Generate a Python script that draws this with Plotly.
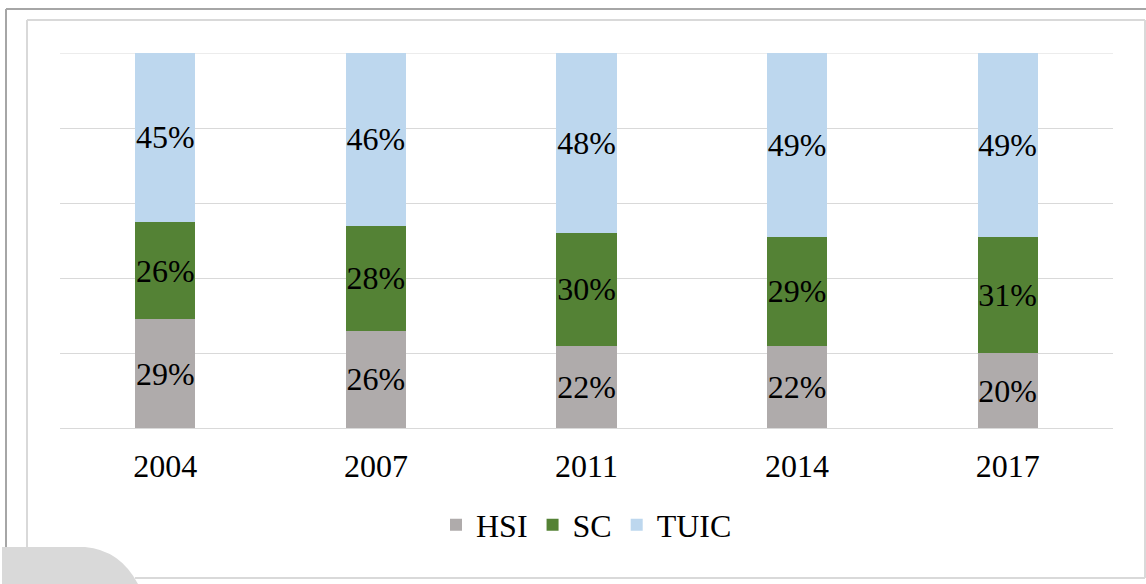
import plotly.graph_objects as go

years = ["2004", "2007", "2011", "2014", "2017"]
hsi = [29, 26, 22, 22, 20]
sc = [26, 28, 30, 29, 31]
tuic = [45, 46, 48, 49, 49]

W, H = 1146, 584
L, R, T, B = 60, 33, 53, 156
PW, PH = W - L - R, H - T - B


def px(x):
    return (x - L) / PW


def py(y):
    return (H - B - y) / PH


FONT = "Liberation Serif, Times New Roman, serif"

fig = go.Figure()
for name, vals, col in [("HSI", hsi, "#AFABAB"), ("SC", sc, "#548235"), ("TUIC", tuic, "#BDD7EE")]:
    fig.add_trace(go.Bar(
        x=years, y=vals, name=name, marker=dict(color=col, line=dict(width=0)),
        text=[f"{v}%" for v in vals], textposition="inside", insidetextanchor="middle",
        textangle=0,
        textfont=dict(family=FONT, size=32, color="#000000"), constraintext="none",
        hoverinfo="skip",
    ))

shapes = [
    # top gridline (100%)
    dict(type="line", xref="paper", yref="y", x0=0, x1=1, y0=100, y1=100,
         line=dict(color="#D9D9D9", width=1), layer="below"),
    # outer dark frame
    dict(type="line", xref="paper", yref="paper", x0=px(6), x1=px(1146), y0=py(9), y1=py(9),
         line=dict(color="#A6A6A6", width=2)),
    dict(type="line", xref="paper", yref="paper", x0=px(6), x1=px(6), y0=py(9), y1=py(547),
         line=dict(color="#A6A6A6", width=2)),
    # inner light frame
    dict(type="line", xref="paper", yref="paper", x0=px(27), x1=px(1145), y0=py(20), y1=py(20),
         line=dict(color="#D9D9D9", width=2)),
    dict(type="line", xref="paper", yref="paper", x0=px(27), x1=px(27), y0=py(20), y1=py(547),
         line=dict(color="#D9D9D9", width=2)),
    dict(type="line", xref="paper", yref="paper", x0=px(1145), x1=px(1145), y0=py(20), y1=py(578),
         line=dict(color="#D9D9D9", width=2)),
    dict(type="line", xref="paper", yref="paper", x0=px(135), x1=px(1145), y0=py(578), y1=py(578),
         line=dict(color="#D9D9D9", width=2)),
    # bottom-left blob
    dict(type="path", xref="paper", yref="paper",
         path=(f"M {px(2)},{py(584)} L {px(2)},{py(547)} L {px(85)},{py(547)} "
               f"Q {px(120)},{py(550)} {px(138)},{py(584)} Z"),
         fillcolor="#D9D9D9", line=dict(width=0)),
]

fig.update_layout(
    width=W, height=H, barmode="stack", bargap=0.715,
    margin=dict(l=L, r=R, t=T, b=B),
    paper_bgcolor="white", plot_bgcolor="white",
    font=dict(family=FONT, color="#000000"),
    uniformtext=dict(mode="show", minsize=32),
    showlegend=True,
    legend=dict(orientation="h", x=0.5, xanchor="center", y=py(525), yanchor="middle",
                font=dict(family=FONT, size=32, color="#000000"), itemwidth=30,
                traceorder="normal"),
    xaxis=dict(showgrid=False, showline=False, ticks="", tickfont=dict(family=FONT, size=32, color="#000000"),
               ticklabelstandoff=16),
    yaxis=dict(range=[0, 100], dtick=20, showticklabels=False, showgrid=True, gridcolor="#D9D9D9",
               gridwidth=1, zeroline=True, zerolinecolor="#D9D9D9", zerolinewidth=1, showline=False),
    shapes=shapes,
)

fig.write_html("out.html", config={"displayModeBar": False},
               post_script="document.body.style.margin='0';document.body.style.overflow='hidden';")
